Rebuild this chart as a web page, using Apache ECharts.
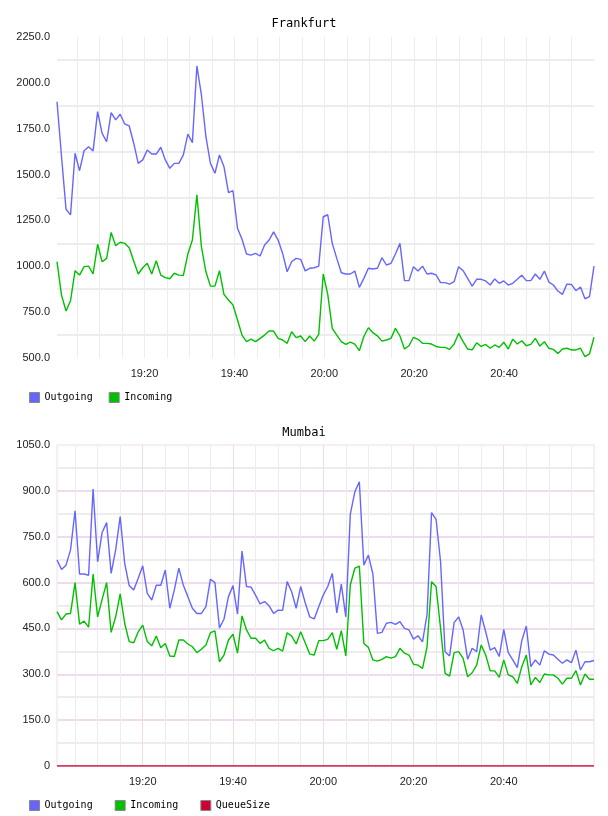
<!DOCTYPE html>
<html>
<head>
<meta charset="utf-8">
<script src="https://cdn.jsdelivr.net/npm/echarts@6/dist/echarts.min.js"></script>
<style>
    html, body { margin: 0; padding: 0; background: #fff; }
    #chart { width: 608px; height: 816px; }
</style>
</head>
<body>
<div id="chart"></div>
<script>
// Frankfurt samples, one per ~minute starting 19:00:32
const frankfurtStart = 0.53;      // minutes after 19:00
const frankfurtStep = 1.0039;     // minutes between samples
const frankfurtOutgoing = [
    1897, 1600, 1311, 1280, 1616, 1521, 1630, 1652, 1629, 1843,
    1725, 1679, 1838, 1798, 1829, 1776, 1765, 1671, 1561, 1580,
    1634, 1612, 1612, 1649, 1580, 1534, 1561, 1561, 1607, 1721,
    1674, 2092, 1934, 1707, 1561, 1507, 1607, 1543, 1401, 1412,
    1207, 1147, 1067, 1061, 1070, 1056, 1116, 1143, 1188, 1143,
    1070, 970, 1025, 1043, 1038, 975, 989, 992, 1001, 1270,
    1281, 1125, 1043, 965, 958, 958, 974, 885, 934, 989,
    985, 989, 1047, 1007, 1016, 1067, 1125, 922, 922, 998,
    974, 1001, 958, 962, 953, 911, 911, 903, 916, 998,
    976, 934, 892, 929, 929, 920, 898, 931, 907, 920,
    898, 907, 929, 951, 922, 922, 958, 929, 974, 914,
    898, 865, 847, 903, 901, 867, 887, 823, 834, 1001
];
const frankfurtIncoming = [
    1025, 843, 756, 812, 976, 952, 998, 1001, 958, 1120,
    1025, 1043, 1185, 1112, 1131, 1125, 1101, 1029, 958, 992,
    1016, 958, 1030, 952, 938, 932, 962, 952, 950, 1067,
    1143, 1390, 1107, 970, 892, 892, 976, 847, 816, 789,
    707, 625, 589, 603, 589, 607, 625, 647, 647, 607,
    598, 580, 643, 611, 620, 589, 620, 592, 629, 958,
    847, 662, 625, 589, 574, 586, 576, 540, 617, 665,
    638, 621, 592, 598, 607, 662, 620, 549, 567, 613,
    602, 580, 580, 576, 563, 558, 558, 547, 576, 634,
    589, 549, 544, 583, 563, 574, 553, 571, 558, 586,
    549, 603, 576, 594, 567, 574, 607, 565, 589, 553,
    547, 525, 549, 553, 544, 544, 553, 507, 522, 613
];

// Mumbai samples, starting 19:01:00
const mumbaiStart = 1.0;
const mumbaiStep = 1.0;
const mumbaiOutgoing = [
    674, 643, 657, 707, 835, 628, 628, 624, 906, 668,
    764, 796, 630, 707, 816, 663, 590, 576, 614, 655,
    565, 543, 591, 591, 641, 516, 576, 647, 591, 554,
    516, 499, 499, 521, 611, 600, 452, 480, 554, 590,
    497, 703, 587, 585, 559, 530, 538, 524, 499, 510,
    509, 603, 570, 516, 587, 534, 488, 481, 521, 559,
    587, 630, 501, 595, 488, 824, 897, 930, 657, 690,
    628, 434, 437, 467, 470, 463, 472, 450, 445, 415,
    426, 406, 495, 829, 807, 668, 374, 360, 469, 488,
    445, 349, 385, 374, 494, 439, 379, 387, 358, 447,
    371, 347, 322, 410, 458, 325, 347, 330, 377, 366,
    363, 349, 336, 347, 338, 379, 314, 341, 341, 345
];
const mumbaiIncoming = [
    505, 478, 497, 499, 600, 464, 474, 454, 628, 488,
    545, 600, 437, 488, 563, 467, 407, 403, 439, 461,
    407, 393, 425, 387, 401, 360, 358, 412, 412, 399,
    390, 371, 382, 396, 436, 442, 341, 363, 412, 431,
    369, 491, 445, 418, 418, 401, 412, 385, 377, 385,
    376, 436, 425, 399, 439, 403, 366, 363, 410, 410,
    414, 436, 382, 443, 360, 592, 647, 654, 401, 388,
    347, 343, 349, 358, 353, 358, 385, 369, 363, 333,
    330, 319, 390, 603, 587, 450, 303, 294, 371, 374,
    352, 292, 305, 330, 396, 363, 311, 311, 290, 347,
    298, 292, 270, 325, 363, 265, 290, 273, 301, 298,
    298, 287, 268, 287, 287, 312, 265, 301, 284, 284
];
const mumbaiQueueSize = mumbaiOutgoing.map(() => 0);

const titles = ['Frankfurt', 'Mumbai'];
const seriesNames = ['Outgoing', 'Incoming', 'QueueSize'];
const colors = ['#6666ff', '#00c000', '#cc0033'];

function toPoints(values, start, step) {
    return values.map((v, i) => [start + i * step, v]);
}

function timeLabel(v) {
    const m = Math.round(v);
    if (Math.abs(v - m) > 0.01 || m % 20 !== 0 || m >= 120) return '';
    const h = 19 + Math.floor(m / 60);
    const mm = m % 60;
    return h + ':' + (mm < 10 ? '0' + mm : mm);
}

function numLabel(v) {
    return v === 0 ? '0' : v.toFixed(1);
}

const gridGrey = '#ededed';
const gridPink = '#eedcee';
const labelFont = { fontFamily: 'Liberation Sans', fontSize: 11, color: '#222' };
const monoFont = 'DejaVu Sans Mono';

const chart = echarts.init(document.getElementById('chart'), null, { renderer: 'canvas' });

const fStart = frankfurtStart, fEnd = frankfurtStart + (frankfurtOutgoing.length - 1) * frankfurtStep;
const mStart = mumbaiStart, mEnd = mumbaiStart + (mumbaiOutgoing.length - 1) * mumbaiStep;

const option = {
    animation: false,
    backgroundColor: '#fff',
    title: [
        { text: titles[0], left: 'center', top: 13, textStyle: { fontFamily: monoFont, fontSize: 12, fontWeight: 'normal', color: '#000' } },
        { text: titles[1], left: 'center', top: 422, textStyle: { fontFamily: monoFont, fontSize: 12, fontWeight: 'normal', color: '#000' } }
    ],
    legend: [
        {
            left: 24, top: 387, itemGap: 16, itemWidth: 10, itemHeight: 10, icon: 'rect',
            itemStyle: { borderColor: '#888', borderWidth: 1 },
            textStyle: { fontFamily: monoFont, fontSize: 10, color: '#000' },
            data: seriesNames.slice(0, 2)
        },
        {
            left: 24, top: 795, itemGap: 22, itemWidth: 10, itemHeight: 10, icon: 'rect',
            itemStyle: { borderColor: '#888', borderWidth: 1 },
            textStyle: { fontFamily: monoFont, fontSize: 10, color: '#000' },
            data: seriesNames
        }
    ],
    grid: [
        { left: 57, right: 14, top: 37, height: 321 },
        { left: 57, right: 14, top: 445, height: 321, show: true, borderColor: gridPink, borderWidth: 1 }
    ],
    xAxis: [
        {
            gridIndex: 0, type: 'value', min: fStart, max: fEnd, splitNumber: 24,
            axisLine: { show: false }, axisTick: { show: false },
            axisLabel: Object.assign({ margin: 10, formatter: timeLabel, showMinLabel: false, showMaxLabel: false }, labelFont),
            splitLine: { show: true, showMinLine: false, showMaxLine: false, lineStyle: { color: gridGrey, width: 1 } }
        },
        {
            gridIndex: 1, type: 'value', min: mStart, max: mEnd, splitNumber: 6,
            axisLine: { show: false }, axisTick: { show: false },
            axisLabel: Object.assign({ margin: 10, formatter: timeLabel, showMinLabel: false, showMaxLabel: false }, labelFont),
            splitLine: { show: true, showMinLine: false, showMaxLine: false, lineStyle: { color: gridPink, width: 1 } },
            minorTick: { show: false, splitNumber: 4 },
            minorSplitLine: { show: true, lineStyle: { color: gridGrey, width: 1 } }
        }
    ],
    yAxis: [
        {
            gridIndex: 0, type: 'value', min: 500, max: 2250, interval: 250,
            axisLine: { show: false }, axisTick: { show: false },
            axisLabel: Object.assign({ margin: 7, formatter: numLabel }, labelFont),
            splitLine: { show: false },
            minorTick: { show: false, splitNumber: 2 },
            minorSplitLine: { show: true, lineStyle: { color: gridGrey, width: 2 } }
        },
        {
            gridIndex: 1, type: 'value', min: 0, max: 1050, interval: 150,
            axisLine: { show: false }, axisTick: { show: false },
            axisLabel: Object.assign({ margin: 7, formatter: numLabel }, labelFont),
            splitLine: { show: true, showMinLine: false, showMaxLine: false, lineStyle: { color: gridPink, width: 2 } },
            minorTick: { show: false, splitNumber: 2 },
            minorSplitLine: { show: true, lineStyle: { color: gridGrey, width: 2 } }
        }
    ],
    series: [
        { name: seriesNames[0], type: 'line', xAxisIndex: 0, yAxisIndex: 0, data: toPoints(frankfurtOutgoing, fStart, frankfurtStep) },
        { name: seriesNames[1], type: 'line', xAxisIndex: 0, yAxisIndex: 0, data: toPoints(frankfurtIncoming, fStart, frankfurtStep) },
        { name: seriesNames[0], type: 'line', xAxisIndex: 1, yAxisIndex: 1, data: toPoints(mumbaiOutgoing, mStart, mumbaiStep) },
        { name: seriesNames[1], type: 'line', xAxisIndex: 1, yAxisIndex: 1, data: toPoints(mumbaiIncoming, mStart, mumbaiStep) },
        { name: seriesNames[2], type: 'line', xAxisIndex: 1, yAxisIndex: 1, data: toPoints(mumbaiQueueSize, mStart, mumbaiStep) }
    ].map((s) => Object.assign(s, {
        showSymbol: false,
        symbol: 'none',
        color: colors[seriesNames.indexOf(s.name)],
        lineStyle: { width: 1.4 },
        clip: true
    }))
};

chart.setOption(option);
window.addEventListener('resize', () => chart.resize());
</script>
</body>
</html>
